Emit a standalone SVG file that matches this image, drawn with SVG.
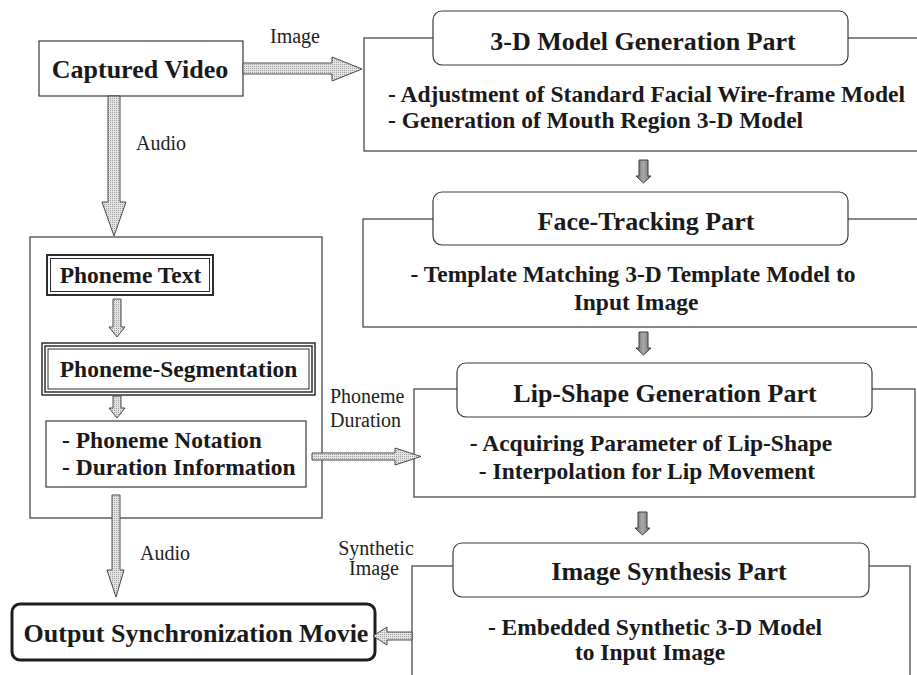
<svg xmlns="http://www.w3.org/2000/svg" width="917" height="675" viewBox="0 0 917 675">
  <style>
    .box { fill: #ffffff; stroke: #3a3a3a; stroke-width: 1.2; }
    .title { fill: #ffffff; stroke: #3a3a3a; stroke-width: 1.2; }
    .hd { font-family: "Liberation Serif", "Times New Roman", serif; font-weight: bold; font-size: 26px; fill: #1a1a1a; }
    .bl { font-family: "Liberation Serif", "Times New Roman", serif; font-weight: bold; font-size: 23.5px; fill: #1a1a1a; }
    .sb { font-family: "Liberation Serif", "Times New Roman", serif; font-weight: bold; font-size: 23.5px; fill: #1a1a1a; }
    .lb { font-family: "Liberation Serif", "Times New Roman", serif; font-size: 20px; fill: #222222; }
    .mid { text-anchor: middle; }
    .lite { fill: url(#stipple); stroke: #4a4a4a; stroke-width: 1; stroke-linejoin: miter; }
    .dark { fill: url(#darkfill); stroke: #3a3a3a; stroke-width: 1; }
  </style>
  <defs>
    <pattern id="stipple" width="2" height="2" patternUnits="userSpaceOnUse">
      <rect width="2" height="2" fill="#e4e4e4"/>
      <rect width="1" height="1" fill="#a0a0a0"/>
    </pattern>
    <linearGradient id="darkfill" x1="0" y1="0" x2="1" y2="0">
      <stop offset="0" stop-color="#6e6e6e"/>
      <stop offset="0.5" stop-color="#a8a8a8"/>
      <stop offset="1" stop-color="#6e6e6e"/>
    </linearGradient>
  </defs>

  <rect width="917" height="675" fill="#ffffff"/>

  <!-- Source -->
  <g id="captured-video">
    <rect class="box" x="39" y="41" width="204" height="55"/>
    <text class="hd mid" x="140" y="78">Captured Video</text>
  </g>

  <!-- Audio processing container -->
  <g id="audio-block">
    <rect class="box" x="30" y="237" width="292" height="281"/>
  </g>

  <g id="phoneme-text">
    <rect x="47" y="255" width="166" height="40" fill="#ffffff" stroke="#2e2e2e" stroke-width="2"/>
    <rect x="50.5" y="258.5" width="159" height="33" fill="none" stroke="#2e2e2e" stroke-width="1"/>
    <text class="sb mid" x="130.5" y="283">Phoneme Text</text>
  </g>

  <g id="phoneme-segmentation">
    <rect x="42" y="343" width="273" height="52" fill="#ffffff" stroke="#2e2e2e" stroke-width="1.5"/>
    <rect x="45" y="346" width="267" height="46" fill="none" stroke="#2e2e2e" stroke-width="1.5"/>
    <rect x="48" y="349" width="261" height="40" fill="none" stroke="#2e2e2e" stroke-width="1"/>
    <text class="sb mid" x="178.5" y="377">Phoneme-Segmentation</text>
  </g>

  <g id="phoneme-notation">
    <rect class="box" x="46" y="421" width="260" height="66"/>
    <text class="sb" x="62" y="448">- Phoneme Notation</text>
    <text class="sb" x="62" y="475">- Duration Information</text>
  </g>

  <g id="output-movie">
    <rect x="12" y="604" width="363" height="56" rx="8" ry="8" fill="#ffffff" stroke="#1e1e1e" stroke-width="3"/>
    <text class="hd mid" x="196" y="642">Output Synchronization Movie</text>
  </g>

  <!-- Processing parts -->
  <g id="model-generation">
    <rect class="box" x="364" y="38" width="580" height="113"/>
    <rect class="title" x="433" y="11" width="415" height="54" rx="9" ry="9"/>
    <text class="hd mid" x="643" y="50">3-D Model Generation Part</text>
    <text class="bl" x="388" y="102">- Adjustment of Standard Facial Wire-frame Model</text>
    <text class="bl" x="388" y="128">- Generation of Mouth Region 3-D Model</text>
  </g>

  <g id="face-tracking">
    <rect class="box" x="363" y="219" width="580" height="108"/>
    <rect class="title" x="433" y="192" width="415" height="53" rx="9" ry="9"/>
    <text class="hd mid" x="646" y="230">Face-Tracking Part</text>
    <text class="bl mid" x="633" y="282">- Template Matching 3-D Template Model to</text>
    <text class="bl mid" x="636" y="310">Input Image</text>
  </g>

  <g id="lip-shape">
    <rect class="box" x="414" y="389" width="501" height="108"/>
    <rect class="title" x="457" y="363" width="415" height="54" rx="9" ry="9"/>
    <text class="hd mid" x="665" y="402">Lip-Shape Generation Part</text>
    <text class="bl mid" x="651" y="451">- Acquiring Parameter of Lip-Shape</text>
    <text class="bl mid" x="647" y="479">- Interpolation for Lip Movement</text>
  </g>

  <g id="image-synthesis">
    <rect class="box" x="412" y="566" width="498" height="130"/>
    <rect class="title" x="453" y="543" width="416" height="54" rx="9" ry="9"/>
    <text class="hd mid" x="669" y="580">Image Synthesis Part</text>
    <text class="bl mid" x="655" y="635">- Embedded Synthetic 3-D Model</text>
    <text class="bl mid" x="650" y="660">to Input Image</text>
  </g>

  <!-- Connectors -->
  <g id="connectors">
    <polygon class="lite" points="243,63 332,63 332,57 362,69 332,81 332,74 243,74"/>
    <text class="lb" x="270" y="43">Image</text>

    <polygon class="lite" points="108,96 120,96 120,202 126,202 114,236 102,202 108,202"/>
    <text class="lb" x="136" y="150">Audio</text>

    <polygon class="lite" points="113,299 121,299 121,327 125,327 117,337 109,327 113,327"/>
    <polygon class="lite" points="113,396 121,396 121,408 125,408 117,418 109,408 113,408"/>

    <polygon class="lite" points="312,453 395,453 395,448 421,456.5 395,465 395,460 312,460"/>
    <text class="lb" x="330" y="403">Phoneme</text>
    <text class="lb" x="330" y="427">Duration</text>

    <polygon class="lite" points="112,495 120,495 120,570 124,570 116,597 107,570 112,570"/>
    <text class="lb" x="140" y="560">Audio</text>

    <polygon class="lite" points="412,632 387,632 387,627 373,636 387,645 387,640 412,640"/>
    <text class="lb mid" x="376" y="555">Synthetic</text>
    <text class="lb mid" x="374" y="575">Image</text>

    <polygon class="dark" points="639,160 648,160 648,176 651,176 643.5,183 636,176 639,176"/>
    <polygon class="dark" points="639,332 648,332 648,348 651,348 643.5,355 636,348 639,348"/>
    <polygon class="dark" points="638,512 647,512 647,528 650,528 642.5,535 635,528 638,528"/>
  </g>
</svg>
